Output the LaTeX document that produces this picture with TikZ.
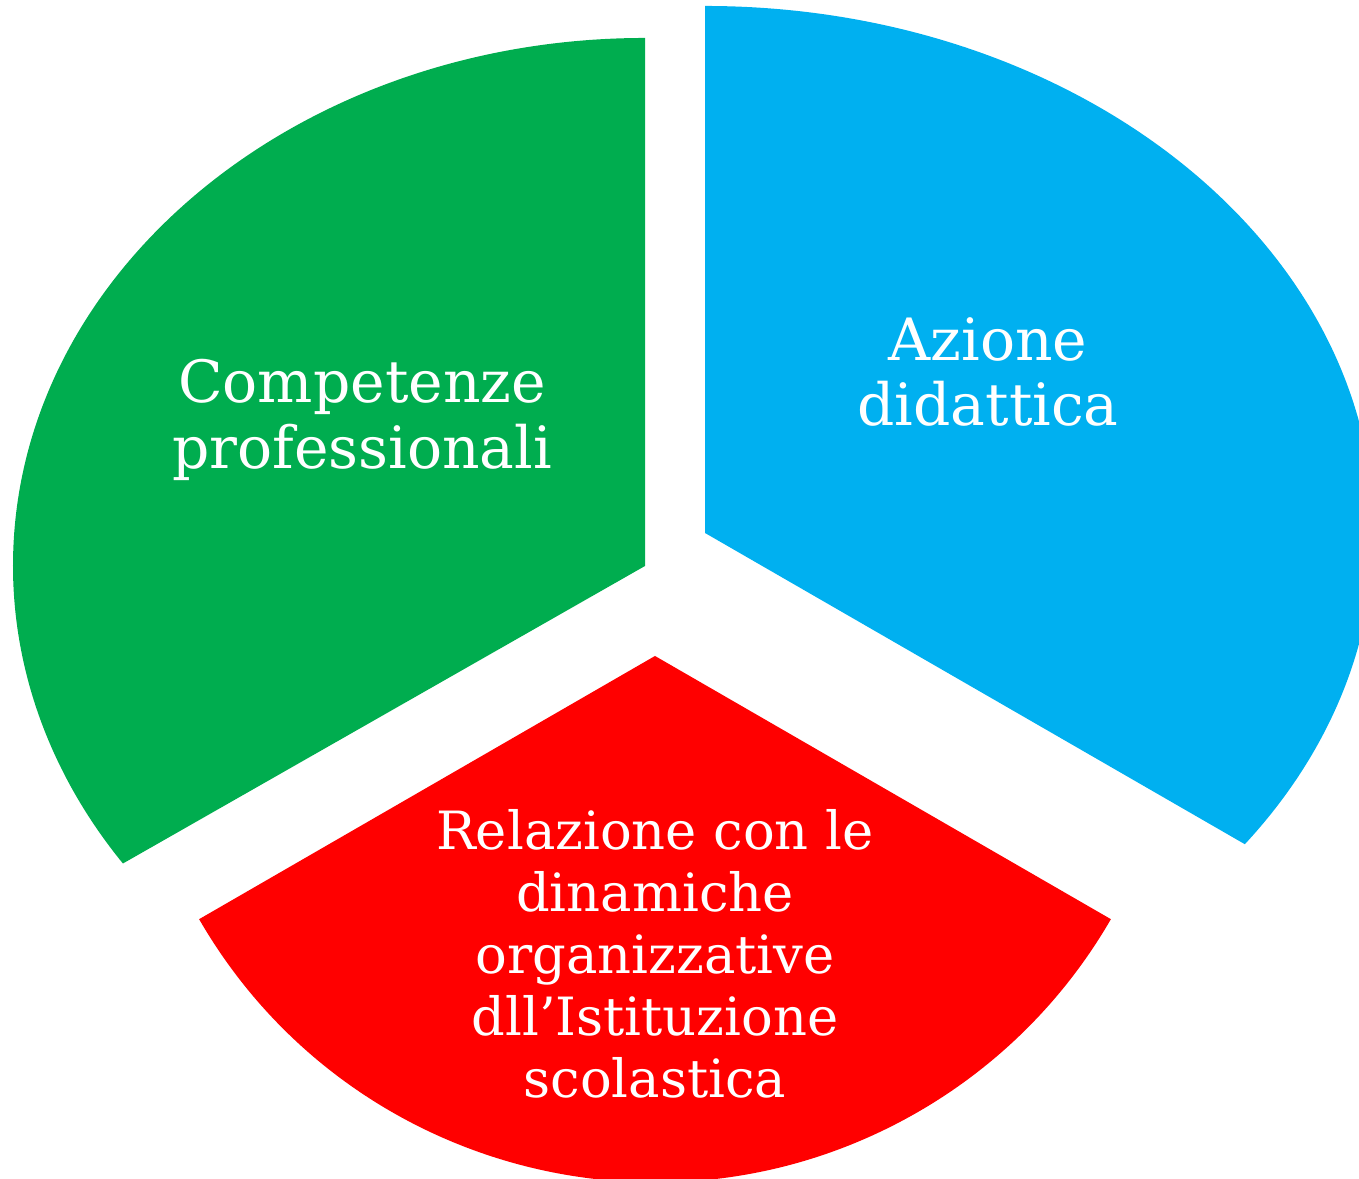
\documentclass[tikz,border=0pt]{standalone}
\usepackage{fontspec}
\setmainfont{DejaVu Serif}
\definecolor{slicegreen}{HTML}{00AD4F}
\definecolor{sliceblue}{HTML}{00B0F0}
\definecolor{slicered}{HTML}{FF0000}
\begin{document}
\begin{tikzpicture}
[slicetext/.style={text=white,align=center,inner sep=0pt,font=\fontsize{15}{17.6}\selectfont},
 bigtext/.style={slicetext,font=\fontsize{16.6}{18.6}\selectfont}]
\useasboundingbox (0,0) rectangle (13.59,11.79);
\clip (0,0) rectangle (13.59,11.79);

\coordinate (G) at (6.45,6.13);
\coordinate (B) at (7.05,6.46);
\coordinate (R) at (6.55,5.23);

\fill [slicegreen] (G) -- ++(0,5.28) arc [start angle=90, end angle=214.3, x radius=6.32, y radius=5.28] -- cycle;
\fill [sliceblue] (B) -- ++(0,5.27) arc [start angle=90, end angle=-36.2, x radius=6.69, y radius=5.27] -- cycle;
\fill [slicered] (R) -- ++(210:5.264) arc [start angle=210, end angle=330, radius=5.264] -- cycle;

\node (comp) at (3.62,7.59) [bigtext] {Competenze\\professionali};
\node (azio) at (9.88,8.07) [bigtext] {Azione\\didattica};
\node (rela) at (6.55,2.25) [slicetext] {Relazione con le\\dinamiche\\organizzative\\dll’Istituzione\\scolastica};

\end{tikzpicture}
\end{document}
